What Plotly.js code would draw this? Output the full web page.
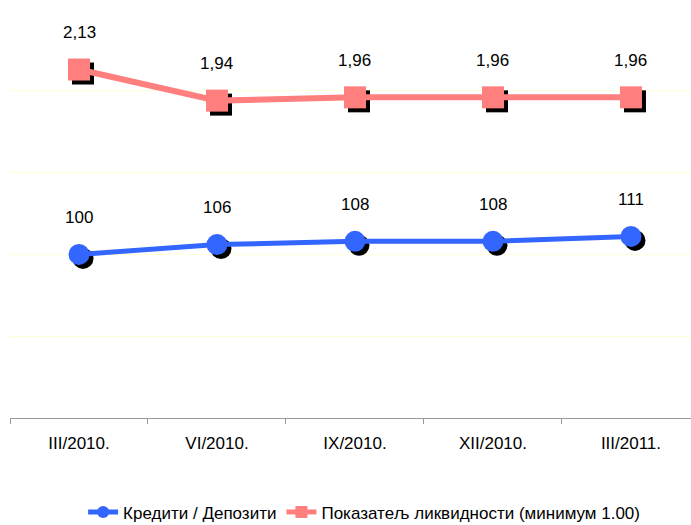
<!DOCTYPE html>
<html><head><meta charset="utf-8">
<script src="https://cdn.plot.ly/plotly-3.0.1.min.js"></script>
<style>body{margin:0;background:#fff}</style></head>
<body><div id="chart" style="width:691px;height:525px"></div>
<script>
const categories = ["III/2010.", "VI/2010.", "IX/2010.", "XII/2010.", "III/2011."];
const loansToDeposits = [100, 106, 108, 108, 111];
const liquidityRatio = [2.13, 1.94, 1.96, 1.96, 1.96];
const seriesNames = ["Кредити / Депозити", "Показатељ ликвидности (минимум 1.00)"];

const FONT = '"Liberation Sans", Arial, sans-serif';
const BLUE = '#3366FF';
const RED = '#FF7F7F';
const leftRange = [0, 250];
const rightRange = [0, 2.5];
const xRange = [-0.5, 4.435];
// shadow offsets expressed in axis units (~4px)
const dx = 0.029, dyL = 2.44, dyR = 0.0244;

const traces = [
  { x: categories, y: loansToDeposits, xaxis: 'x', yaxis: 'y', type: 'scatter', mode: 'markers',
    marker: { symbol: 'circle', size: 21, color: '#000' }, showlegend: false, hoverinfo: 'skip' },
  { x: categories, y: liquidityRatio, xaxis: 'x', yaxis: 'y2', type: 'scatter', mode: 'markers',
    marker: { symbol: 'square', size: 22, color: '#000' }, showlegend: false, hoverinfo: 'skip' },
  { x: categories, y: loansToDeposits, xaxis: 'x2', yaxis: 'y3', type: 'scatter', mode: 'lines+markers',
    name: seriesNames[0], line: { color: BLUE, width: 5 },
    marker: { symbol: 'circle', size: 21, color: BLUE } },
  { x: categories, y: liquidityRatio, xaxis: 'x2', yaxis: 'y4', type: 'scatter', mode: 'lines+markers',
    name: seriesNames[1], line: { color: RED, width: 6 },
    marker: { symbol: 'square', size: 22, color: RED } }
];

const fmt = (v, d) => v.toFixed(d).replace('.', ',');
const annotations = [];
categories.forEach((c, i) => {
  annotations.push({ x: c, y: loansToDeposits[i], xref: 'x2', yref: 'y3', text: fmt(loansToDeposits[i], 0),
    showarrow: false, yshift: 37, font: { family: FONT, size: 17, color: '#000' } });
  annotations.push({ x: c, y: liquidityRatio[i], xref: 'x2', yref: 'y4', text: fmt(liquidityRatio[i], 2),
    showarrow: false, yshift: 37, font: { family: FONT, size: 17, color: '#000' } });
});

const layout = {
  width: 691, height: 525,
  margin: { l: 10, r: 0, t: 9, b: 107, autoexpand: false },
  paper_bgcolor: '#fff', plot_bgcolor: '#fff',
  font: { family: FONT, size: 15, color: '#000' },
  xaxis: { type: 'category', range: [xRange[0] - dx, xRange[1] - dx], visible: false, fixedrange: true },
  yaxis: { range: [leftRange[0] + dyL, leftRange[1] + dyL], visible: false },
  yaxis2: { overlaying: 'y', range: [rightRange[0] + dyR, rightRange[1] + dyR], visible: false },
  xaxis2: { type: 'category', overlaying: 'x', anchor: 'y3', side: 'bottom', range: xRange,
    showline: true, linecolor: '#999', linewidth: 1, ticks: 'outside', tickson: 'boundaries',
    ticklen: 5, tickcolor: '#999', showgrid: false, zeroline: false, ticklabelstandoff: 10,
    tickfont: { family: FONT, size: 17, color: '#000' } },
  yaxis3: { overlaying: 'y', range: leftRange, dtick: 50, showgrid: true, gridcolor: '#FFFFD6', gridwidth: 1,
    showticklabels: false, ticks: '', zeroline: false, showline: false },
  yaxis4: { overlaying: 'y', range: rightRange, visible: false },
  showlegend: true,
  legend: { orientation: 'h', x: 0.52, xanchor: 'center', yref: 'container', y: 0.024, yanchor: 'middle',
    font: { family: FONT, size: 17, color: '#000' }, itemsizing: 'constant', bgcolor: 'rgba(0,0,0,0)' },
  annotations: annotations
};

Plotly.newPlot('chart', traces, layout, { displayModeBar: false, staticPlot: true });
</script>
</body></html>
